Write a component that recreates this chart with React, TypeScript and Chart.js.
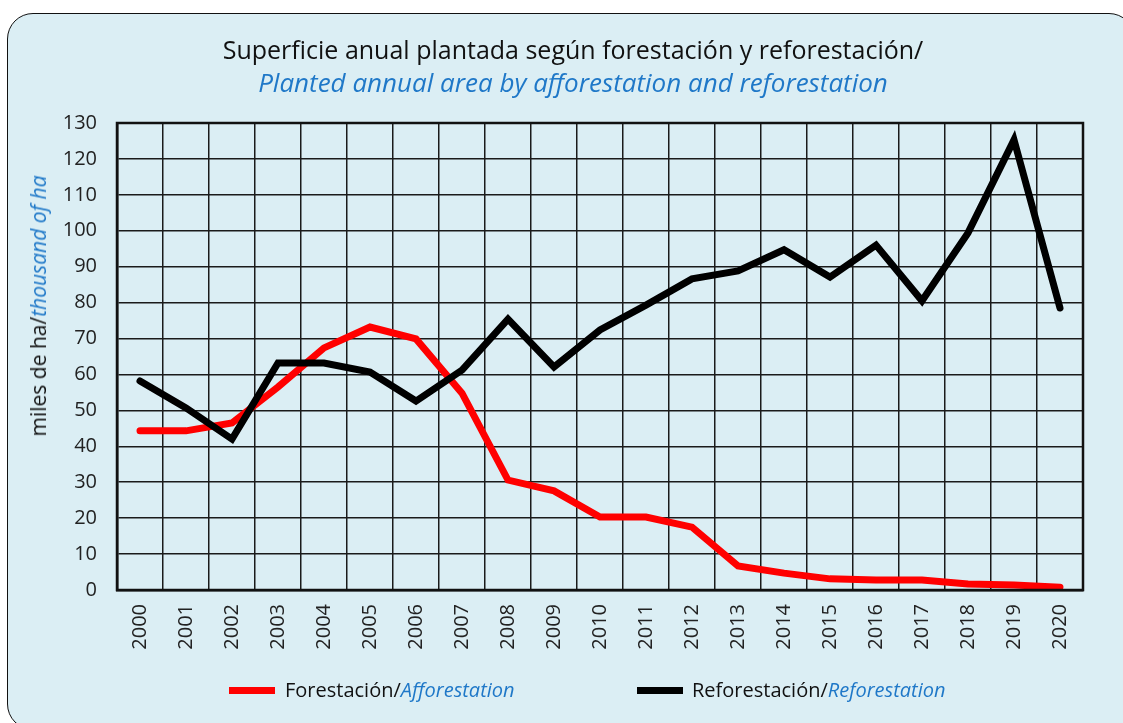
import React, { useEffect, useRef } from "react";
import { Chart, registerables } from "chart.js";

Chart.register(...registerables);

const years = ["2000","2001","2002","2003","2004","2005","2006","2007","2008","2009","2010","2011","2012","2013","2014","2015","2016","2017","2018","2019","2020"];
const forestacion = [44.3, 44.3, 46.5, 56.5, 67.4, 73.2, 69.9, 54.8, 30.6, 27.6, 20.3, 20.3, 17.5, 6.7, 4.7, 3.1, 2.8, 2.8, 1.7, 1.4, 0.8];
const reforestacion = [58.2, 50.7, 42.0, 63.2, 63.2, 60.7, 52.6, 61.2, 75.4, 62.1, 72.4, 79.3, 86.6, 88.8, 94.7, 87.1, 96.0, 80.5, 99.4, 125.3, 78.5];
const yMin = 0;
const yMax = 130;
const yStep = 10;

const BLUE = "#1F78C8";
const FONT = "'Open Sans', 'Noto Sans', sans-serif";

const framePlugin = {
  id: "frame",
  afterDatasetsDraw(chart: any) {
    const { ctx, chartArea } = chart;
    ctx.save();
    ctx.strokeStyle = "#111";
    ctx.lineWidth = 2.5;
    ctx.strokeRect(chartArea.left, chartArea.top, chartArea.right - chartArea.left, chartArea.bottom - chartArea.top);
    ctx.restore();
  },
};

export default function App() {
  const ref = useRef<HTMLCanvasElement>(null);
  useEffect(() => {
    if (!ref.current) return;
    const chart = new Chart(ref.current, {
      type: "line",
      data: {
        labels: years,
        datasets: [
          {
            label: "Forestación/Afforestation",
            data: forestacion,
            borderColor: "#FF0000",
            backgroundColor: "#FF0000",
            borderWidth: 7,
            pointRadius: 0,
            tension: 0,
            borderCapStyle: "round",
            borderJoinStyle: "miter",
            order: 1,
          },
          {
            label: "Reforestación/Reforestation",
            data: reforestacion,
            borderColor: "#000000",
            backgroundColor: "#000000",
            borderWidth: 7,
            pointRadius: 0,
            tension: 0,
            borderCapStyle: "round",
            borderJoinStyle: "miter",
            order: 0,
          },
        ],
      },
      options: {
        responsive: false,
        animation: false,
        layout: { padding: { left: 0, top: 123, right: 40, bottom: 0 } },
        plugins: { legend: { display: false }, title: { display: false }, tooltip: { enabled: false } },
        scales: {
          x: {
            offset: true,
            grid: { offset: true, color: "#1a1a1a", lineWidth: 1.5, drawTicks: false },
            border: { display: true, color: "#111", width: 2.5 },
            ticks: {
              color: "#222",
              font: { family: FONT, size: 20 },
              maxRotation: 90,
              minRotation: 90,
              padding: 14,
              autoSkip: false,
            },
            afterFit(scale: any) {
              scale.height = 133;
            },
          },
          y: {
            min: yMin,
            max: yMax,
            grid: { color: "#1a1a1a", lineWidth: 1.5, drawTicks: false },
            border: { display: true, color: "#111", width: 2.5 },
            ticks: {
              stepSize: yStep,
              color: "#222",
              font: { family: FONT, size: 20 },
              padding: 20,
            },
            afterFit(scale: any) {
              scale.width = 117;
            },
          },
        },
      },
      plugins: [framePlugin],
    });
    return () => chart.destroy();
  }, []);

  return (
    <div style={{ position: "fixed", left: 0, top: 0, width: 1123, height: 723, overflow: "hidden", background: "#fff", fontFamily: FONT }}>
      <div
        style={{
          position: "absolute",
          left: 7,
          top: 13,
          width: 1128,
          height: 717,
          border: "1.5px solid #111",
          borderRadius: 26,
          background: "#DBEEF4",
          boxSizing: "border-box",
        }}
      />
      <canvas ref={ref} width={1123} height={723} style={{ position: "absolute", left: 0, top: 0, width: 1123, height: 723 }} />
      <div style={{ position: "absolute", left: 73, width: 1000, top: 33, textAlign: "center", fontSize: 25, lineHeight: "32px", color: "#111", whiteSpace: "nowrap" }}>
        Superficie anual plantada según forestación y reforestación/
      </div>
      <div style={{ position: "absolute", left: 73, width: 1000, top: 66, textAlign: "center", fontSize: 26, lineHeight: "32px", color: BLUE, fontStyle: "italic", whiteSpace: "nowrap" }}>
        Planted annual area by afforestation and reforestation
      </div>
      <div
        style={{
          position: "absolute",
          left: 38,
          top: 306,
          transform: "translate(-50%, -50%) rotate(-90deg)",
          fontSize: 21,
          lineHeight: "26px",
          color: "#111",
          whiteSpace: "nowrap",
        }}
      >
        miles de ha/<span style={{ color: BLUE, fontStyle: "italic" }}>thousand of ha</span>
      </div>
      <div style={{ position: "absolute", left: 229, top: 687, width: 46, height: 7, background: "#FF0000" }} />
      <div style={{ position: "absolute", left: 285, top: 677, fontSize: 20, lineHeight: "26px", color: "#111", whiteSpace: "nowrap" }}>
        Forestación/<span style={{ color: BLUE, fontStyle: "italic" }}>Afforestation</span>
      </div>
      <div style={{ position: "absolute", left: 637, top: 687, width: 46, height: 7, background: "#000" }} />
      <div style={{ position: "absolute", left: 692, top: 677, fontSize: 20, lineHeight: "26px", color: "#111", whiteSpace: "nowrap" }}>
        Reforestación/<span style={{ color: BLUE, fontStyle: "italic" }}>Reforestation</span>
      </div>
    </div>
  );
}
